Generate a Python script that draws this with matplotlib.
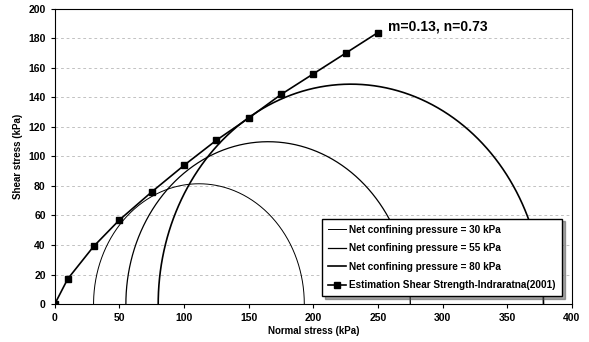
import numpy as np
import matplotlib
matplotlib.use('Agg')
import matplotlib.pyplot as plt

# Mohr circles: (sigma3, sigma1)
sigma3 = [30, 55, 80]
sigma1 = [193, 275, 378]
circle_labels = ['Net confining pressure = 30 kPa',
                 'Net confining pressure = 55 kPa',
                 'Net confining pressure = 80 kPa']
circle_lw = [0.7, 0.9, 1.2]

# Estimated shear strength envelope
est_x = [0, 10, 30, 50, 75, 100, 125, 150, 175, 200, 225, 250]
est_y = [0, 17, 39, 57, 76, 94, 111, 126, 142, 156, 170, 184]

plt.rcParams['font.family'] = 'Liberation Sans'
fig = plt.figure(figsize=(5.89, 3.42), dpi=100)
ax = fig.add_axes([0.093, 0.111, 0.878, 0.863])

theta = np.linspace(0, np.pi, 400)
for s3, s1, lab, lw in zip(sigma3, sigma1, circle_labels, circle_lw):
    c = (s1 + s3) / 2
    r = (s1 - s3) / 2
    ax.plot(c + r * np.cos(theta), r * np.sin(theta), color='black', lw=lw, label=lab)

ax.plot(est_x, est_y, color='black', lw=1.2, marker='s', markersize=5,
        label='Estimation Shear Strength-Indraratna(2001)')

ax.text(258, 188, 'm=0.13, n=0.73', fontsize=10, fontweight='bold', va='center')

ax.set_xlim(0, 400)
ax.set_ylim(0, 200)
ax.set_xticks(range(0, 401, 50))
ax.set_yticks(range(0, 201, 20))
ax.grid(axis='y', color='#aaaaaa', linestyle=(0, (4, 4)), linewidth=0.5)
ax.tick_params(labelsize=7.5, length=3)
for t in ax.get_xticklabels() + ax.get_yticklabels():
    t.set_fontweight('bold')
ax.set_xlabel('Normal stress (kPa)', fontsize=7, fontweight='bold', labelpad=2)
ax.set_ylabel('Shear stress (kPa)', fontsize=7, fontweight='bold', labelpad=4)

leg = ax.legend(loc='lower right', fontsize=7.2, frameon=True, shadow=True,
                fancybox=False, edgecolor='black', framealpha=1,
                handlelength=1.8, handletextpad=0.3, borderpad=0.6,
                labelspacing=0.85, bbox_to_anchor=(0.99, 0.01))
for t in leg.get_texts():
    t.set_fontweight('bold')

fig.savefig('out.png', dpi=100)
